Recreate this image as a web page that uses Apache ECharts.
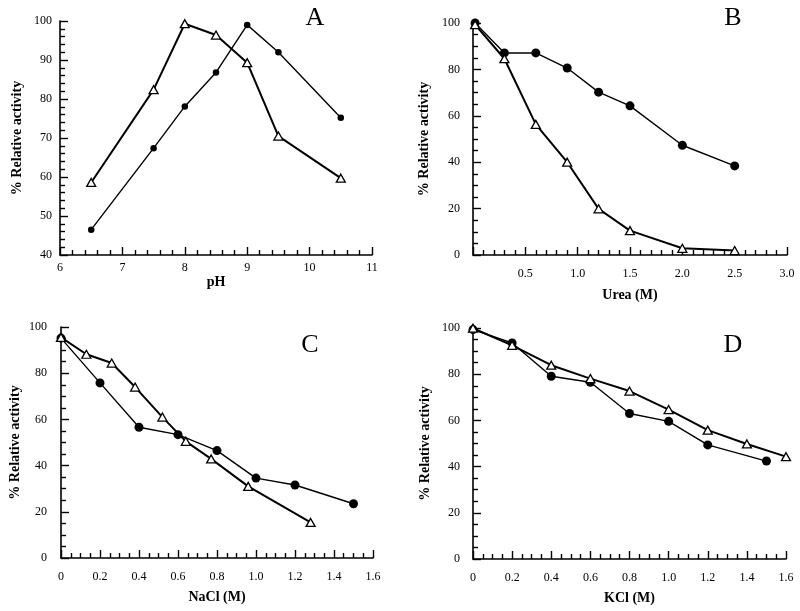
<!DOCTYPE html>
<html>
<head>
<meta charset="utf-8">
<script src="https://cdn.jsdelivr.net/npm/echarts@6/dist/echarts.min.js"></script>
<style>
html,body{margin:0;padding:0;background:#fff;}
#c{width:800px;height:611px;}
</style>
</head>
<body>
<div id="c"></div>
<script>
// Panel A: pH
const phX = [6.5, 7.5, 8, 8.5, 9, 9.5, 10.5];
const phTriangle = [58.6, 82.4, 99.3, 96.4, 89.3, 70.5, 59.7];
const phCircle = [46.5, 67.4, 78.1, 86.8, 99.0, 92.0, 75.2];
// Panel B: Urea
const ureaX = [0.02, 0.3, 0.6, 0.9, 1.2, 1.5, 2.0, 2.5];
const ureaCircle = [100, 87.1, 87.1, 80.6, 70.2, 64.3, 47.3, 38.4];
const ureaTriangle = [99.3, 84.6, 56.3, 40.0, 19.9, 10.5, 2.9, 1.9];
// Panel C: NaCl
const naclCircleX = [0, 0.2, 0.4, 0.6, 0.8, 1.0, 1.2, 1.5];
const naclCircle = [95.2, 75.8, 56.6, 53.4, 46.5, 34.6, 31.6, 23.5];
const naclTriangleX = [0, 0.13, 0.26, 0.38, 0.52, 0.64, 0.77, 0.96, 1.28];
const naclTriangle = [95.5, 88.2, 84.4, 74.0, 61.0, 50.5, 42.9, 31.0, 15.4];
// Panel D: KCl
const kclCircleX = [0, 0.2, 0.4, 0.6, 0.8, 1.0, 1.2, 1.5];
const kclCircle = [99.3, 93.5, 79.1, 76.5, 63.0, 59.6, 49.4, 42.4];
const kclTriangleX = [0, 0.2, 0.4, 0.6, 0.8, 1.0, 1.2, 1.4, 1.6];
const kclTriangle = [99.9, 92.5, 83.9, 78.1, 72.7, 64.7, 55.8, 49.8, 44.3];

const panelLetters = ['A', 'B', 'C', 'D'];
const xNames = ['pH', 'Urea (M)', 'NaCl (M)', 'KCl (M)'];
const yName = '% Relative activity';

const FONT = '"Liberation Serif", "DejaVu Serif", serif';

function zip(xs, ys) { return xs.map((x, i) => [x, ys[i]]); }

const grids = [
  {left: 60, top: 21, width: 312, height: 234},
  {left: 473, top: 23, width: 314, height: 232},
  {left: 61, top: 327, width: 312, height: 231},
  {left: 473, top: 328, width: 313, height: 231}
];

function xAxisCfg(i, min, max, interval, minorSplit, fmt, margin, nameGap) {
  return {
    type: 'value', gridIndex: i, min: min, max: max, interval: interval,
    name: xNames[i], nameLocation: 'middle', nameGap: nameGap,
    nameTextStyle: {fontFamily: FONT, fontSize: 14, fontWeight: 'bold', color: '#000'},
    axisLine: {show: true, onZero: false, lineStyle: {color: '#000', width: 1.6}},
    axisTick: {show: true, inside: true, length: 8, lineStyle: {color: '#000', width: 1.4}},
    minorTick: {show: true, splitNumber: minorSplit, length: 5, lineStyle: {color: '#000', width: 1.4}},
    axisLabel: {fontFamily: FONT, fontSize: 12, color: '#000', margin: margin, formatter: fmt},
    splitLine: {show: false}
  };
}
function yAxisCfg(i, min, max, interval, minorSplit, margin, nameGap) {
  return {
    type: 'value', gridIndex: i, min: min, max: max, interval: interval,
    name: yName, nameLocation: 'middle', nameGap: nameGap, nameRotate: 90,
    nameTextStyle: {fontFamily: FONT, fontSize: 14, fontWeight: 'bold', color: '#000'},
    axisLine: {show: true, onZero: false, lineStyle: {color: '#000', width: 1.6}},
    axisTick: {show: true, inside: true, length: 8, lineStyle: {color: '#000', width: 1.4}},
    minorTick: {show: true, splitNumber: minorSplit, length: 5, lineStyle: {color: '#000', width: 1.4}},
    axisLabel: {fontFamily: FONT, fontSize: 12, color: '#000', margin: margin},
    splitLine: {show: false}
  };
}

const fmtInt = v => String(Math.round(v));
const fmtB = v => (v === 0 ? '' : v.toFixed(1));
const fmtCD = v => (v === 0 ? '0' : v.toFixed(1));

function circleSeries(i, data, size, lw) {
  return {
    type: 'line', xAxisIndex: i, yAxisIndex: i, data: data,
    symbol: 'circle', symbolSize: size, showSymbol: true,
    lineStyle: {color: '#000', width: lw},
    itemStyle: {color: '#000', borderColor: '#000', borderWidth: 0},
    animation: false, z: 3
  };
}
function triSeries(i, data, size) {
  return {
    type: 'line', xAxisIndex: i, yAxisIndex: i, data: data,
    symbol: 'triangle', symbolSize: size, showSymbol: true,
    lineStyle: {color: '#000', width: 2},
    itemStyle: {color: '#fff', borderColor: '#000', borderWidth: 1.3},
    animation: false, z: 4
  };
}

const letterPos = [[315, 18], [733, 18], [310, 345], [733, 345]];

const option = {
  backgroundColor: '#fff',
  animation: false,
  grid: grids,
  xAxis: [
    xAxisCfg(0, 6, 11, 1, 5, fmtInt, 7, 20),
    xAxisCfg(1, 0, 3, 0.5, 5, fmtB, 13, 33),
    xAxisCfg(2, 0, 1.6, 0.2, 4, fmtCD, 13, 32),
    xAxisCfg(3, 0, 1.6, 0.2, 4, fmtCD, 13, 32)
  ],
  yAxis: [
    yAxisCfg(0, 40, 100, 10, 5, 8, 36),
    yAxisCfg(1, 0, 100, 20, 4, 13, 42),
    yAxisCfg(2, 0, 100, 20, 4, 14, 39),
    yAxisCfg(3, 0, 100, 20, 4, 13, 41)
  ],
  series: [
    triSeries(0, zip(phX, phTriangle), [9, 8]),
    circleSeries(0, zip(phX, phCircle), 6.5, 1.4),
    triSeries(1, zip(ureaX, ureaTriangle), [9, 8]),
    circleSeries(1, zip(ureaX, ureaCircle), 9, 1.4),
    triSeries(2, zip(naclTriangleX, naclTriangle), [9, 8]),
    circleSeries(2, zip(naclCircleX, naclCircle), 9, 1.4),
    triSeries(3, zip(kclTriangleX, kclTriangle), [9, 8]),
    circleSeries(3, zip(kclCircleX, kclCircle), 9, 1.4)
  ],
  graphic: panelLetters.map((t, i) => ({
    type: 'text', x: letterPos[i][0], y: letterPos[i][1],
    style: {text: t, fontFamily: FONT, fontSize: 26, fill: '#000', textAlign: 'center', textVerticalAlign: 'middle'}
  }))
};

const chart = echarts.init(document.getElementById('c'), null, {renderer: 'canvas'});
chart.setOption(option);
</script>
</body>
</html>
